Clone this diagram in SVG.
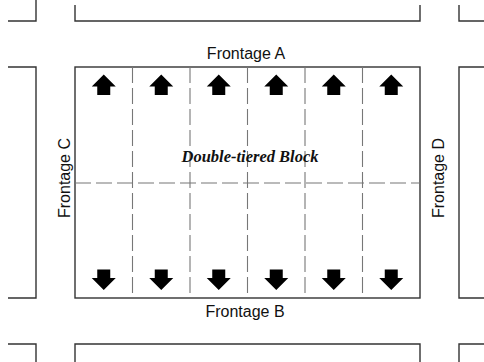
<svg xmlns="http://www.w3.org/2000/svg" width="484" height="362" viewBox="0 0 484 362">
<style>
.blk{fill:none;stroke:#333;stroke-width:1.4}
.div{fill:none;stroke:#777;stroke-width:1.1;stroke-dasharray:16 5}
.lbl{font-family:"Liberation Sans",Arial,sans-serif;font-size:16px;fill:#111}
.ttl{font-family:"Liberation Serif","Times New Roman",serif;font-size:16.5px;font-weight:bold;font-style:italic;fill:#111}
.arr{fill:#000}
</style>
<defs>
<path id="up" d="M0,-10.5 L12,1.5 L6.5,1.5 L6.5,10 L-6.5,10 L-6.5,1.5 L-12,1.5 Z"/>
<path id="dn" d="M0,10.5 L12,-1.5 L6.5,-1.5 L6.5,-10 L-6.5,-10 L-6.5,-1.5 L-12,-1.5 Z"/>
</defs>
<rect width="484" height="362" fill="#fff"/>
<g id="blocks-top">
<path class="blk" d="M8,21 H36 V0"/>
<path class="blk" d="M75,5 V21 H420 V5"/>
<path class="blk" d="M484,21 H459 V5"/>
</g>
<g id="block-left"><path class="blk" d="M8,67 H36 V298 H8"/></g>
<g id="block-right"><path class="blk" d="M484,67 H459 V298 H484"/></g>
<g id="blocks-bottom">
<path class="blk" d="M8,344 H36 V362"/>
<path class="blk" d="M75,362 V344 H420 V362"/>
<path class="blk" d="M484,344 H459 V362"/>
</g>
<g id="main-block">
<rect class="blk" x="75" y="67" width="345" height="231"/>
<g id="dividers">
<line class="div" x1="132.5" y1="67" x2="132.5" y2="298"/>
<line class="div" x1="190" y1="67" x2="190" y2="298"/>
<line class="div" x1="247.5" y1="67" x2="247.5" y2="298"/>
<line class="div" x1="305" y1="67" x2="305" y2="298"/>
<line class="div" x1="362.5" y1="67" x2="362.5" y2="298"/>
<line class="div" x1="75" y1="183" x2="420" y2="183"/>
</g>
<g id="arrows-up" class="arr">
<use href="#up" x="103.75" y="85"/>
<use href="#up" x="161.25" y="85"/>
<use href="#up" x="218.75" y="85"/>
<use href="#up" x="276.25" y="85"/>
<use href="#up" x="333.75" y="85"/>
<use href="#up" x="391.25" y="85"/>
</g>
<g id="arrows-down" class="arr">
<use href="#dn" x="103.75" y="279.5"/>
<use href="#dn" x="161.25" y="279.5"/>
<use href="#dn" x="218.75" y="279.5"/>
<use href="#dn" x="276.25" y="279.5"/>
<use href="#dn" x="333.75" y="279.5"/>
<use href="#dn" x="391.25" y="279.5"/>
</g>
<text class="ttl" x="250" y="162" text-anchor="middle">Double-tiered Block</text>
</g>
<g id="labels">
<text class="lbl" x="246" y="59" text-anchor="middle">Frontage A</text>
<text class="lbl" x="245" y="317" text-anchor="middle">Frontage B</text>
<text class="lbl" transform="translate(70,178) rotate(-90)" text-anchor="middle">Frontage C</text>
<text class="lbl" transform="translate(444,178) rotate(-90)" text-anchor="middle">Frontage D</text>
</g>
</svg>
